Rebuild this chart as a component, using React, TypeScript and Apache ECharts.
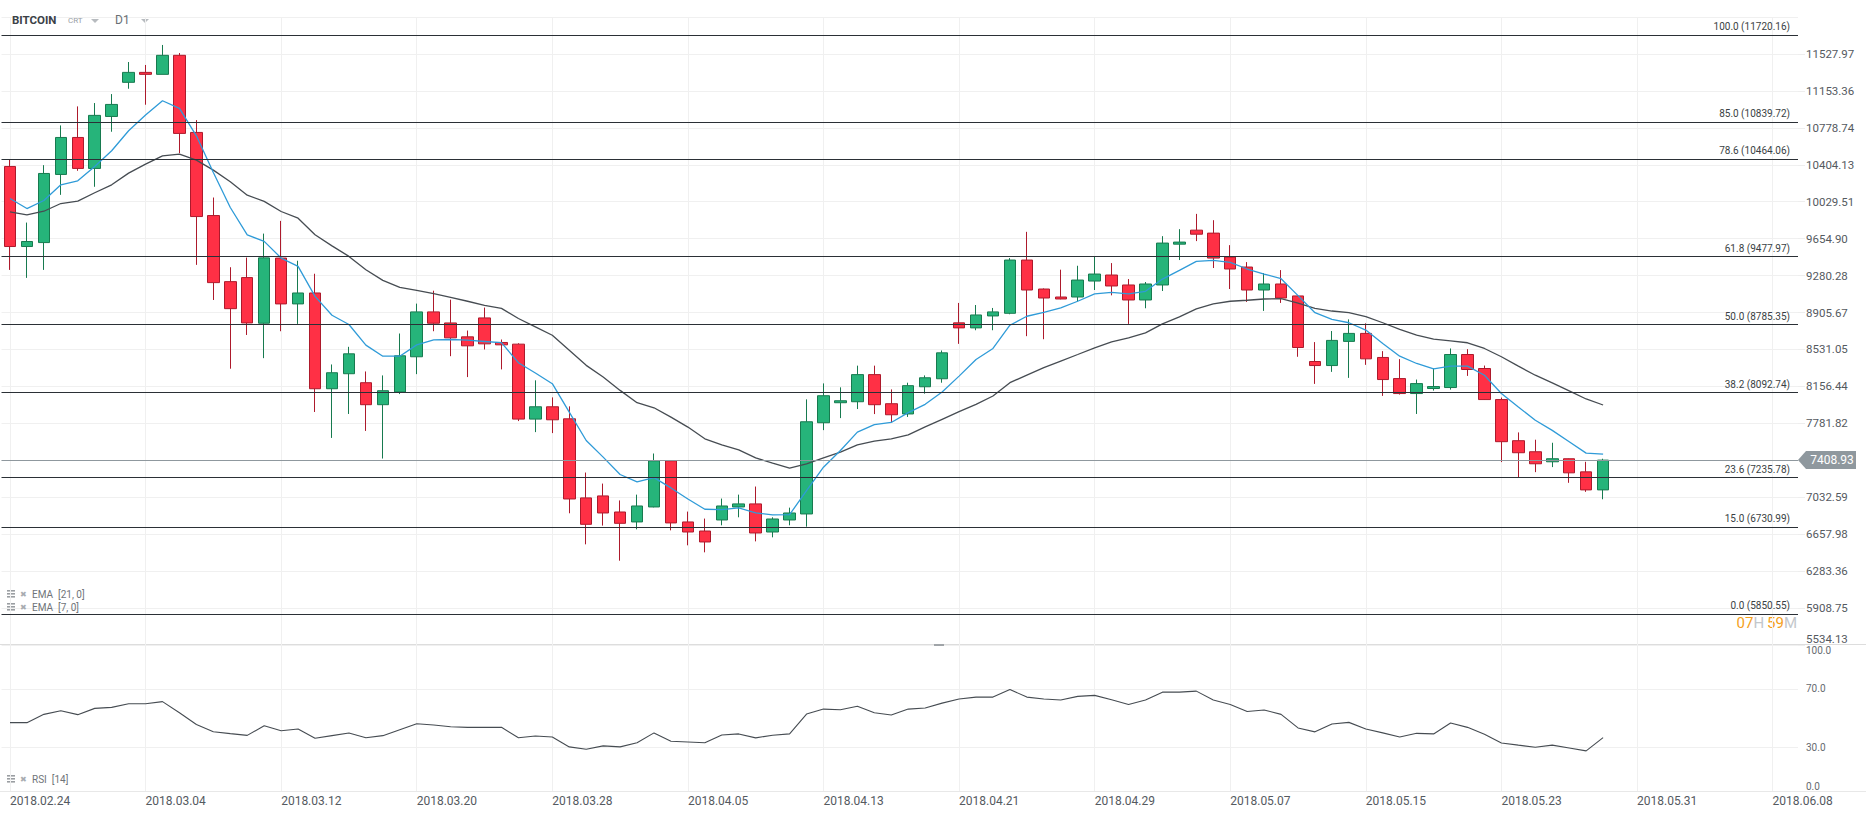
import React, { useEffect, useRef } from "react";
import * as echarts from "echarts";

// ---------- data ----------
const START_UTC = Date.UTC(2018, 1, 24);
const CATEGORY_COUNT = 106; // 2018.02.24 .. 2018.06.09 (future days stay empty)
const DATES: string[] = Array.from({ length: CATEGORY_COUNT }, (_, i) => {
  const d = new Date(START_UTC + i * 86400000);
  return `${d.getUTCFullYear()}.${String(d.getUTCMonth() + 1).padStart(2, "0")}.${String(d.getUTCDate()).padStart(2, "0")}`;
});

const OPEN = [
  10387, 9575, 9615, 10306, 10681, 10367, 10894, 11240, 11341, 11321,
  11514, 10732, 9889, 9219, 9260, 8797, 9458, 8993, 9104, 8133,
  8285, 8194, 7971, 8100, 8457, 8912, 8800, 8659, 8851, 8602,
  8585, 7825, 7950, 7828, 7026, 7046, 6883, 6782, 6934, 7402,
  6782, 6690, 6802, 6934, 6965, 6680, 6802, 6863, 7788, 7991,
  8001, 8276, 7981, 7877, 8153, 8234, 8801, 8750, 8871, 8898,
  9438, 9144, 9063, 9063, 9225, 9286, 9185, 9033, 9185, 9599,
  9741, 9711, 9468, 9367, 9134, 9195, 9074, 8409, 8368, 8613,
  8694, 8450, 8236, 8084, 8135, 8145, 8480, 8338, 8023, 7606,
  7494, 7392, 7423, 7290, 7107,
];
const CLOSE = [
  9575, 9626, 10316, 10681, 10367, 10905, 11016, 11341, 11321, 11514,
  10722, 9879, 9209, 8945, 8800, 9460, 8993, 9104, 8133, 8295,
  8487, 7971, 8113, 8467, 8912, 8797, 8649, 8568, 8588, 8578,
  7825, 7950, 7818, 7015, 6758, 6873, 6768, 6944, 7402, 6772,
  6680, 6579, 6944, 6965, 6670, 6812, 6873, 7798, 8062, 8011,
  8276, 7971, 7869, 8164, 8244, 8497, 8750, 8881, 8912, 9438,
  9134, 9053, 9043, 9235, 9296, 9175, 9033, 9195, 9610, 9620,
  9700, 9458, 9347, 9134, 9195, 9053, 8551, 8368, 8623, 8694,
  8436, 8226, 8084, 8185, 8155, 8480, 8328, 8023, 7596, 7484,
  7372, 7423, 7280, 7107, 7408.93,
];
const LOW = [
  9338, 9257, 9338, 10099, 10343, 10181, 10739, 11175, 11013, 11321,
  10522, 9389, 9033, 8336, 8678, 8443, 8716, 8790, 7897, 7634,
  7877, 7705, 7425, 8079, 8281, 8716, 8463, 8251, 8531, 8329,
  7805, 7693, 7683, 6870, 6555, 6745, 6389, 6707, 6930, 6697,
  6545, 6474, 6748, 6829, 6585, 6626, 6748, 6734, 7713, 7835,
  7927, 7876, 7795, 7847, 8083, 8194, 8588, 8726, 8726, 8888,
  8666, 8635, 9040, 9020, 9134, 9080, 8790, 8949, 9124, 9438,
  9630, 9357, 9144, 9013, 8922, 9003, 8457, 8182, 8304, 8243,
  8375, 8060, 8074, 7877, 8114, 8124, 8263, 8020, 7389, 7236,
  7287, 7338, 7179, 7087, 7012,
];
const HIGH = [
  10461, 9818, 10400, 10803, 10996, 11030, 11121, 11446, 11416, 11619,
  11537, 10857, 10072, 9365, 9463, 9706, 9835, 9431, 9299, 8379,
  8558, 8308, 8268, 8693, 8996, 9127, 9036, 8723, 8956, 8632,
  8594, 8218, 8045, 7954, 7283, 7171, 7000, 7059, 7476, 7410,
  6887, 6816, 7019, 7059, 7141, 6829, 6927, 8025, 8187, 8147,
  8367, 8367, 8126, 8194, 8268, 8521, 9003, 8982, 8952, 9458,
  9724, 9150, 9340, 9380, 9478, 9407, 9245, 9215, 9680, 9751,
  9906, 9842, 9589, 9417, 9306, 9336, 9080, 8606, 8718, 8836,
  8796, 8514, 8433, 8226, 8338, 8541, 8534, 8368, 8043, 7690,
  7616, 7585, 7425, 7392, 7423,
];
const EMA7 = [
  10062, 9960, 10042, 10201, 10241, 10387, 10546, 10749, 10908, 11053,
  10976, 10698, 10326, 9971, 9693, 9627, 9458, 9373, 9070, 8878,
  8784, 8575, 8463, 8463, 8578, 8629, 8632, 8625, 8612, 8600,
  8397, 8292, 8184, 7896, 7608, 7439, 7263, 7188, 7232, 7127,
  7015, 6911, 6907, 6924, 6873, 6853, 6856, 7100, 7337, 7507,
  7693, 7768, 7791, 7890, 7975, 8099, 8261, 8430, 8541, 8777,
  8868, 8908, 8952, 9020, 9094, 9111, 9094, 9121, 9245, 9333,
  9424, 9434, 9414, 9347, 9296, 9249, 9077, 8904, 8836, 8802,
  8728, 8592, 8463, 8389, 8334, 8362, 8362, 8270, 8084, 7948,
  7813, 7711, 7596, 7480, 7470,
];
const EMA21 = [
  9927, 9896, 9933, 10011, 10035, 10120, 10201, 10319, 10411, 10495,
  10512, 10451, 10350, 10231, 10096, 10033, 9930, 9862, 9694, 9582,
  9475, 9340, 9232, 9161, 9131, 9097, 9060, 9020, 8979, 8948,
  8845, 8760, 8675, 8523, 8370, 8252, 8116, 7991, 7940, 7845,
  7744, 7625, 7564, 7513, 7432, 7378, 7327, 7371, 7432, 7490,
  7564, 7601, 7625, 7665, 7746, 7823, 7901, 7975, 8059, 8194,
  8271, 8346, 8413, 8480, 8548, 8608, 8649, 8699, 8790, 8861,
  8942, 8993, 9020, 9030, 9043, 9047, 9001, 8948, 8921, 8904,
  8863, 8802, 8734, 8677, 8636, 8619, 8599, 8541, 8457, 8362,
  8270, 8192, 8111, 8029, 7968,
];
const RSI14 = [
  46.8, 46.8, 52.5, 55.0, 52.3, 56.6, 57.3, 59.8, 59.8, 61.2,
  53.6, 45.6, 40.6, 39.3, 38.1, 44.7, 41.3, 42.5, 36.1, 37.9,
  39.7, 36.5, 37.9, 42.0, 46.1, 45.2, 44.0, 43.6, 43.6, 43.6,
  36.5, 37.7, 37.0, 30.2, 28.6, 30.9, 30.2, 33.0, 39.8, 34.1,
  33.6, 33.0, 38.4, 39.1, 36.4, 38.2, 39.1, 52.7, 56.1, 55.7,
  58.0, 53.6, 52.0, 56.1, 56.8, 60.2, 63.0, 64.3, 64.3, 69.5,
  64.3, 63.0, 62.3, 64.8, 65.5, 62.5, 59.3, 62.3, 67.7, 67.7,
  68.4, 62.3, 59.3, 54.5, 55.5, 52.5, 43.2, 40.5, 45.9, 47.0,
  42.5, 39.8, 37.0, 39.5, 39.1, 46.6, 43.6, 38.9, 32.9, 31.4,
  30.0, 31.4, 29.5, 27.5, 36.6,
];
const FIB_LEVELS = [100.0, 85.0, 78.6, 61.8, 50.0, 38.2, 23.6, 15.0, 0.0];
const FIB_PRICES = [11720.16, 10839.72, 10464.06, 9477.97, 8785.35, 8092.74, 7235.78, 6730.99, 5850.55];
const PRICE_TICKS = [
  "5534.13", "5908.75", "6283.36", "6657.98", "7032.59", "7407.21", "7781.82", "8156.44",
  "8531.05", "8905.67", "9280.28", "9654.90", "10029.51", "10404.13", "10778.74", "11153.36", "11527.97",
];
const RSI_TICKS = [0, 30, 70, 100];
const RSI_BANDS = [30, 70];
const CURRENT_PRICE = 7408.93;
const COUNTDOWN = ["07", "59"];

// axis base/step (price axis is offset so ticks sit on the picture's tick values)
const BASE = 5534.13;
const STEP = 374.615;
const HIDDEN_TICK = 5; // covered by current price tag

export default function App() {
  const ref = useRef<HTMLDivElement>(null);

  useEffect(() => {
    document.body.style.margin = "0";
    const el = ref.current!;
    const chart = echarts.init(el, undefined, { renderer: "svg" });

    const L = 1.5;
    const R = 68;
    const mainTop = 17;
    const mainH = 628;
    const rsiTop = 645;
    const rsiH = 146;

    const candleData = OPEN.map((o, i) => [o - BASE, CLOSE[i] - BASE, LOW[i] - BASE, HIGH[i] - BASE]);
    const labelDates = DATES.filter((_, i) => i % 8 === 0);
    const nulls = DATES.map(() => null);
    const font = "Roboto, 'Noto Sans', sans-serif";

    const fibData: any[] = FIB_LEVELS.map((lv, i) => ({
      yAxis: FIB_PRICES[i] - BASE,
      label: { formatter: `${lv.toFixed(1)} (${FIB_PRICES[i].toFixed(2)})` },
    }));
    fibData.push({
      yAxis: CURRENT_PRICE - BASE,
      lineStyle: { color: "#8f989e" },
      label: { show: false },
    });

    const option: any = {
      animation: false,
      backgroundColor: "#ffffff",
      grid: [
        { left: L, right: R, top: mainTop, height: mainH },
        { left: L, right: R, top: rsiTop, height: rsiH },
      ],
      xAxis: [
        { type: "category", gridIndex: 0, data: DATES, boundaryGap: true, show: false },
        {
          type: "category",
          gridIndex: 1,
          data: DATES,
          boundaryGap: true,
          axisLine: { show: false },
          axisTick: { show: false },
          splitLine: { show: false },
          axisLabel: {
            interval: (i: number) => i % 8 === 0,
            align: "left",
            margin: 4,
            color: "#555a5f",
            fontSize: 12,
            fontFamily: font,
          },
        },
      ],
      yAxis: [
        {
          type: "value",
          gridIndex: 0,
          position: "right",
          min: 0,
          max: 17 * STEP,
          interval: STEP,
          axisLine: { show: false },
          axisTick: { show: true, length: 7, lineStyle: { color: "#eeeeee" } },
          splitLine: { show: true, lineStyle: { color: "#f0f0f0" } },
          axisLabel: {
            margin: 8,
            color: "#555a5f",
            fontSize: 11.5,
            fontFamily: font,
            showMaxLabel: false,
            verticalAlignMinLabel: "bottom",
            formatter: (v: number) => {
              const k = Math.round(v / STEP);
              if (k === HIDDEN_TICK) return "";
              return PRICE_TICKS[k] ?? "";
            },
          },
        },
        {
          type: "value",
          gridIndex: 1,
          position: "right",
          min: 0,
          max: 100,
          interval: 10,
          axisLine: { show: false },
          axisTick: { show: false },
          splitLine: { show: false },
          axisLabel: {
            margin: 8,
            color: "#666b70",
            fontSize: 10,
            fontFamily: font,
            verticalAlignMaxLabel: "top",
            verticalAlignMinLabel: "bottom",
            formatter: (v: number) => (RSI_TICKS.indexOf(Math.round(v)) >= 0 ? v.toFixed(1) : ""),
          },
        },
      ],
      series: [
        {
          type: "line",
          name: "vgrid-main",
          xAxisIndex: 0,
          yAxisIndex: 0,
          data: nulls,
          symbol: "none",
          silent: true,
          markLine: {
            z: 1,
            silent: true,
            symbol: ["none", "none"],
            label: { show: false },
            lineStyle: { type: "solid", color: "#f0f0f0", width: 1 },
            data: labelDates.map((d) => ({ xAxis: d })),
          },
        },
        {
          type: "candlestick",
          name: "BITCOIN",
          xAxisIndex: 0,
          yAxisIndex: 0,
          data: candleData,
          barWidth: 12,
          itemStyle: {
            color: "#26b47a",
            color0: "#ff3045",
            borderColor: "#177a4f",
            borderColor0: "#ad1a2c",
            borderWidth: 1,
          },
          markLine: {
            silent: true,
            symbol: ["none", "none"],
            lineStyle: { type: "solid", color: "#2b3036", width: 1 },
            label: {
              show: true,
              position: "insideEndTop",
              color: "#3a3f44",
              fontSize: 10,
              fontFamily: font,
              distance: [8, 3],
            },
            emphasis: { disabled: true },
            data: fibData,
          },
        },
        {
          type: "line",
          name: "EMA 21",
          xAxisIndex: 0,
          yAxisIndex: 0,
          data: EMA21.map((v) => v - BASE),
          symbol: "none",
          silent: true,
          lineStyle: { color: "#464c52", width: 1.3 },
        },
        {
          type: "line",
          name: "EMA 7",
          xAxisIndex: 0,
          yAxisIndex: 0,
          data: EMA7.map((v) => v - BASE),
          symbol: "none",
          silent: true,
          lineStyle: { color: "#2f9bd8", width: 1.3 },
        },
        {
          type: "line",
          name: "vgrid-rsi",
          xAxisIndex: 1,
          yAxisIndex: 1,
          data: nulls,
          symbol: "none",
          silent: true,
          markLine: {
            z: 1,
            silent: true,
            symbol: ["none", "none"],
            label: { show: false },
            lineStyle: { type: "solid", color: "#f0f0f0", width: 1 },
            data: [
              ...labelDates.map((d) => ({ xAxis: d })),
              ...RSI_BANDS.map((v) => ({ yAxis: v })),
            ],
          },
        },
        {
          type: "line",
          name: "RSI 14",
          xAxisIndex: 1,
          yAxisIndex: 1,
          data: RSI14,
          symbol: "none",
          silent: true,
          lineStyle: { color: "#464c52", width: 1.1 },
        },
      ],
    };

    chart.setOption(option);

    const py = chart.convertToPixel({ yAxisIndex: 0 }, CURRENT_PRICE - BASE) as number;
    const axisX = 1866 - R;

    const legendItem = (y: number, text: string) => [
      { type: "rect", shape: { x: 7, y: y - 4, width: 8, height: 1.6 }, style: { fill: "#9a9ea2" } },
      { type: "rect", shape: { x: 7, y: y - 1, width: 8, height: 1.6 }, style: { fill: "#9a9ea2" } },
      { type: "rect", shape: { x: 7, y: y + 2, width: 8, height: 1.6 }, style: { fill: "#9a9ea2" } },
      {
        type: "text",
        x: 20,
        y,
        style: { text: "✖", fontSize: 8, fill: "#a8acb0", verticalAlign: "middle", fontFamily: "DejaVu Sans" },
      },
      {
        type: "text",
        x: 32,
        y,
        style: { text, fontSize: 10, fill: "#6f7479", verticalAlign: "middle", fontFamily: font },
      },
    ];

    chart.setOption({
      graphic: [
        // header
        { type: "text", x: 12, y: 20, style: { text: "BITCOIN", fontSize: 11.5, fontWeight: "bold", fill: "#3c4147", verticalAlign: "middle", fontFamily: font } },
        { type: "text", x: 68, y: 20, style: { text: "CRT", fontSize: 8, fill: "#9aa0a6", verticalAlign: "middle", fontFamily: font } },
        { type: "polygon", shape: { points: [[91, 19], [99, 19], [95, 23]] }, style: { fill: "#b7bbbf" } },
        { type: "text", x: 115, y: 20, style: { text: "D1", fontSize: 12, fill: "#6a6f74", verticalAlign: "middle", fontFamily: font } },
        { type: "polygon", shape: { points: [[141, 19], [149, 19], [145, 23]] }, style: { fill: "#b7bbbf" } },
        // pane separators
        { type: "line", shape: { x1: 0, y1: 644.5, x2: 1866, y2: 644.5 }, style: { stroke: "#dddddd", lineWidth: 1 } },
        { type: "line", shape: { x1: 0, y1: 791.5, x2: 1866, y2: 791.5 }, style: { stroke: "#e8e8e8", lineWidth: 1 } },
        { type: "rect", shape: { x: 934, y: 644, width: 10, height: 2 }, style: { fill: "#a0a4a8" } },
        // legends
        ...legendItem(594, "EMA  [21, 0]"),
        ...legendItem(607, "EMA  [7, 0]"),
        ...legendItem(779, "RSI  [14]"),
        // countdown
        {
          type: "text",
          x: axisX - 1,
          y: 623,
          style: {
            text: `{o|${COUNTDOWN[0]}}{g|H} {o|${COUNTDOWN[1]}}{g|M}`,
            align: "right",
            verticalAlign: "middle",
            fontFamily: font,
            rich: {
              o: { fontSize: 15, fill: "#f5a01a", fontFamily: font },
              g: { fontSize: 15, fill: "#c3c7cb", fontFamily: font },
            },
          },
        },
        // current price tag
        {
          type: "polygon",
          z: 100,
          shape: { points: [[axisX, py], [axisX + 8, py - 9], [1856, py - 9], [1856, py + 9], [axisX + 8, py + 9]] },
          style: { fill: "#8f989e" },
        },
        {
          type: "text",
          z: 101,
          x: 1832,
          y: py,
          style: { text: CURRENT_PRICE.toFixed(2), fontSize: 12, fill: "#ffffff", align: "center", verticalAlign: "middle", fontFamily: font },
        },
      ],
    });

    return () => chart.dispose();
  }, []);

  return (
    <div
      ref={ref}
      style={{ position: "absolute", left: 0, top: 0, width: 1866, height: 817, background: "#ffffff" }}
    />
  );
}
